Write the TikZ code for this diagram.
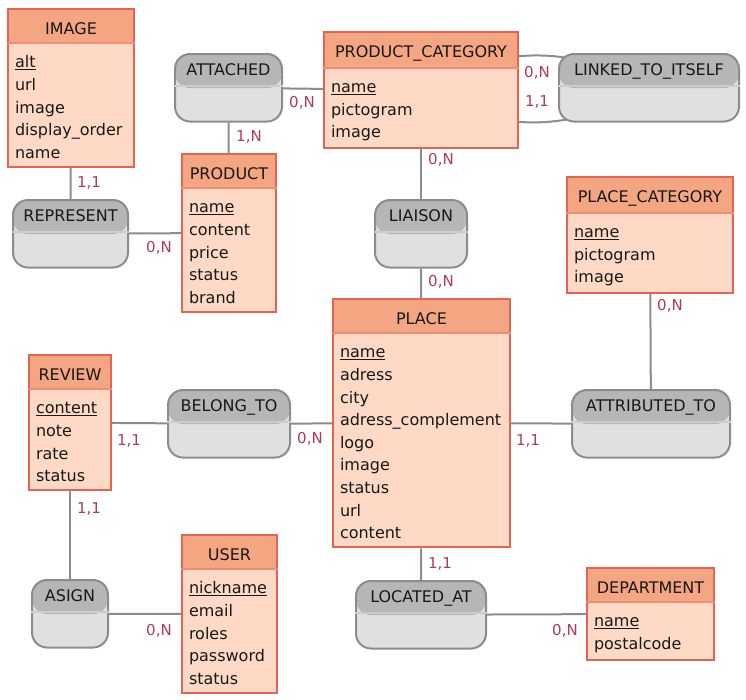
\documentclass[tikz,border=0pt]{standalone}
\usepackage{fontspec}
\setmainfont{DejaVu Sans}
\usetikzlibrary{shapes.multipart, backgrounds}

\definecolor{entHead}{RGB}{244,165,130}
\definecolor{entBody}{RGB}{254,218,198}
\definecolor{entLine}{RGB}{226,100,82}
\definecolor{entSep}{RGB}{238,142,118}
\definecolor{relHead}{RGB}{182,182,182}
\definecolor{relBody}{RGB}{224,224,224}
\definecolor{relLine}{RGB}{140,140,140}
\definecolor{relSep}{RGB}{204,204,204}
\definecolor{linkGray}{RGB}{140,140,140}
\definecolor{cardRed}{RGB}{172,62,82}
\definecolor{txt}{RGB}{24,24,24}

\newcommand{\hdstrut}{\rule[-2pt]{0pt}{20pt}}
\newcommand{\rwstrut}{\rule[-1.6pt]{0pt}{19.5pt}}
\newcommand{\rlstrut}{\rule[-4pt]{0pt}{18pt}}
\newcommand{\rlbody}{\rule{0pt}{21.5pt}}

\begin{document}
\begin{tikzpicture}
        [x=1pt, y=-1pt,
        entity/.style={rectangle split, rectangle split parts=2, rectangle split draw splits=false,
          rectangle split part fill={entHead,entBody}, draw=entLine, line width=2pt,
          anchor=north west, inner xsep=7pt, inner ysep=6pt, align=left,
          rectangle split part align={center,left}, text=txt, font=\fontsize{16}{22.6}\selectfont},
        relation/.style={rectangle split, rectangle split parts=2, rectangle split draw splits=false,
          fill=relBody, draw=relLine, line width=2pt, rounded corners=15pt,
          path picture={\fill[relHead] (path picture bounding box.north west) rectangle ([yshift=-34pt]path picture bounding box.north east);},
          anchor=north west, inner xsep=7pt, inner ysep=6pt, text=txt, font=\fontsize{16}{22.6}\selectfont},
        entsep/.style={draw=entSep, line width=1.5pt},
        relsep/.style={draw=relSep, line width=1.5pt},
        link/.style={draw=linkGray, line width=2pt},
        card/.style={text=cardRed, inner sep=0pt, font=\fontsize{15}{18}\selectfont}]

        \useasboundingbox (0, 0) rectangle (746, 699);

        % entities
        \node[entity, minimum width=126pt] (image) at (7, 8) {\hdstrut IMAGE
          \nodepart{two}\rwstrut\underline{alt}\\ \rwstrut url\\ \rwstrut image\\ \rwstrut display\_order\\ \rwstrut name};
        \node[entity, minimum width=94pt] (product) at (181, 153) {\hdstrut PRODUCT
          \nodepart{two}\rwstrut\underline{name}\\ \rwstrut content\\ \rwstrut price\\ \rwstrut status\\ \rwstrut brand};
        \node[entity, minimum width=194pt] (pcat) at (323, 31) {\hdstrut PRODUCT\_CATEGORY
          \nodepart{two}\rwstrut\underline{name}\\ \rwstrut pictogram\\ \rwstrut image};
        \node[entity, minimum width=166pt] (placecat) at (566, 176) {\hdstrut PLACE\_CATEGORY
          \nodepart{two}\rwstrut\underline{name}\\ \rwstrut pictogram\\ \rwstrut image};
        \node[entity, minimum width=177pt] (place) at (332, 298) {\hdstrut PLACE
          \nodepart{two}\rwstrut\underline{name}\\ \rwstrut adress\\ \rwstrut city\\ \rwstrut adress\_complement\\ \rwstrut logo\\
          \rwstrut image\\ \rwstrut status\\ \rwstrut url\\ \rwstrut content};
        \node[entity, minimum width=82pt] (review) at (28, 354) {\hdstrut REVIEW
          \nodepart{two}\rwstrut\underline{content}\\ \rwstrut note\\ \rwstrut rate\\ \rwstrut status};
        \node[entity, minimum width=95pt] (user) at (181, 534) {\hdstrut USER
          \nodepart{two}\rwstrut\underline{nickname}\\ \rwstrut email\\ \rwstrut roles\\ \rwstrut password\\ \rwstrut status};
        \node[entity, minimum width=127pt] (department) at (586, 567) {\hdstrut DEPARTMENT
          \nodepart{two}\rwstrut\underline{name}\\ \rwstrut postalcode};

        % associations
        \node[relation, minimum width=107pt] (attached) at (174, 53) {\rlstrut ATTACHED\nodepart{two}\rlbody};
        \node[relation, minimum width=115pt] (represent) at (12, 199) {\rlstrut REPRESENT\nodepart{two}\rlbody};
        \node[relation, minimum width=92pt] (liaison) at (374, 199) {\rlstrut LIAISON\nodepart{two}\rlbody};
        \node[relation, minimum width=180pt] (linked) at (558, 53) {\rlstrut LINKED\_TO\_ITSELF\nodepart{two}\rlbody};
        \node[relation, minimum width=122pt] (belongto) at (167, 389) {\rlstrut BELONG\_TO\nodepart{two}\rlbody};
        \node[relation, minimum width=158pt] (attributed) at (571, 389) {\rlstrut ATTRIBUTED\_TO\nodepart{two}\rlbody};
        \node[relation, minimum width=76pt] (asign) at (31, 579) {\rlstrut ASIGN\nodepart{two}\rlbody};
        \node[relation, minimum width=130pt] (locatedat) at (355, 580) {\rlstrut LOCATED\_AT\nodepart{two}\rlbody};

        \foreach \e in {image, product, pcat, placecat, place, review, user, department}
          \draw[entsep] (\e.text split west) -- (\e.text split east);
        \foreach \r in {attached, represent, liaison, linked, belongto, attributed, asign, locatedat}
          \draw[relsep] (\r.text split west) -- (\r.text split east);

        % links
        \begin{scope}[on background layer]
        \draw[link] (image) -- (represent);
        \draw[link] (represent) -- (product);
        \draw[link] (attached) -- (product);
        \draw[link] (attached) -- (pcat);
        \draw[link] (pcat) -- (liaison);
        \draw[link] (liaison) -- (place);
        \draw[link] (pcat.center) to[bend left=30] (linked.center);
        \draw[link] (pcat.center) to[bend right=30] (linked.center);
        \draw[link] (placecat) -- (attributed);
        \draw[link] (place) -- (attributed);
        \draw[link] (belongto) -- (place);
        \draw[link] (review) -- (belongto);
        \draw[link] (review) -- (asign);
        \draw[link] (asign) -- (user);
        \draw[link] (place) -- (locatedat);
        \draw[link] (locatedat) -- (department);
        \end{scope}

        % cardinalities
        \node[card] (c1) at (89, 183) {1,1};
        \node[card] (c2) at (159, 248) {0,N};
        \node[card] (c3) at (249, 137) {1,N};
        \node[card] (c4) at (302, 103) {0,N};
        \node[card] (c5) at (441, 160) {0,N};
        \node[card] (c6) at (441, 282) {0,N};
        \node[card] (c7) at (537, 73) {0,N};
        \node[card] (c8) at (537, 102) {1,1};
        \node[card] (c9) at (670, 306) {0,N};
        \node[card] (c10) at (528, 441) {1,1};
        \node[card] (c11) at (310, 439) {0,N};
        \node[card] (c12) at (129, 441) {1,1};
        \node[card] (c13) at (89, 509) {1,1};
        \node[card] (c14) at (159, 631) {0,N};
        \node[card] (c15) at (440, 564) {1,1};
        \node[card] (c16) at (565, 631) {0,N};
      \end{tikzpicture}
\end{document}
